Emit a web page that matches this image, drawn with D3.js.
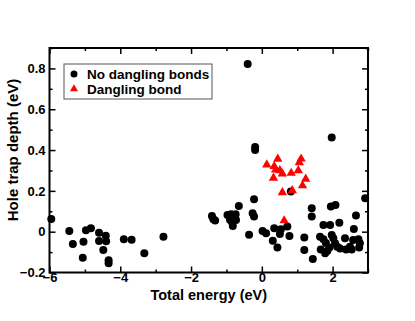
<!DOCTYPE html>
<html><head><meta charset="utf-8">
<script src="https://cdn.jsdelivr.net/npm/d3@7"></script>
<style>
html,body{margin:0;padding:0;background:#fff;}
text{font-family:"Liberation Sans",Arial,sans-serif;font-weight:bold;}
</style></head>
<body><svg id="c" width="415" height="321"></svg>
<script>
const noDanglingX = [-5.95,-5.44,-5.34,-5.06,-5.04,-4.97,-4.83,-4.60,-4.60,-4.41,-4.40,-4.48,-4.33,-4.33,-3.90,-3.68,-3.32,-2.78,
 -1.41,-1.37,-1.32,-0.97,-0.87,-0.74,-0.90,-0.73,-0.82,-0.85,-0.65,-0.40,-0.19,-0.19,-0.22,-0.26,-0.22,-0.36,0.02,0.12,0.35,0.31,0.44,0.54,0.51,0.72,0.78,0.82,
 1.20,1.20,1.44,1.41,1.41,1.975,1.74,1.93,2.19,1.95,2.08,2.66,2.60,2.92,
 1.645,1.665,1.74,1.81,1.79,1.85,1.91,1.975,2.02,2.07,2.13,2.21,2.35,2.38,2.49,2.54,2.58,2.73,2.77,2.75];
const noDanglingY = [0.062,0.003,-0.06,-0.128,-0.049,0.007,0.017,-0.005,-0.046,-0.02,-0.047,-0.09,-0.14,-0.155,-0.037,-0.039,-0.106,-0.025,
 0.077,0.061,0.055,0.082,0.085,0.085,0.058,0.057,0.028,0.049,0.126,0.821,0.415,0.40,0.159,0.09,0.074,-0.015,0.003,-0.008,0.017,-0.044,-0.077,0.012,-0.011,0.025,-0.021,0.197,
 -0.028,-0.09,-0.134,0.115,0.074,0.461,0.033,0.033,0.044,0.123,0.131,0.079,0.013,0.164,
 -0.025,-0.087,-0.037,-0.056,-0.106,-0.095,-0.077,-0.016,-0.032,-0.057,-0.074,-0.082,-0.032,-0.087,-0.074,-0.087,-0.041,-0.037,-0.057,-0.077];
const danglingX = [0.45,0.14,0.35,0.39,0.51,0.58,0.33,0.83,1.03,1.11,1.06,1.24,1.15,0.58,0.86,0.63];
const danglingY = [0.356,0.328,0.320,0.303,0.30,0.284,0.263,0.287,0.30,0.357,0.339,0.258,0.226,0.192,0.202,0.054];
const xTicks = [-6,-4,-2,0,2];
const xMinor = [-5,-3,-1,1,3];
const yTicks = [-0.2,0,0.2,0.4,0.6,0.8];
const yMinor = [-0.1,0.1,0.3,0.5,0.7,0.9];
const seriesNames = ["No dangling bonds","Dangling bond"];
const xLabel = "Total energy (eV)";
const yLabel = "Hole trap depth (eV)";

const svg = d3.select("#c");
const L=49.5, R=368, T=48, B=272.5;
const x = d3.scaleLinear().domain([-6,3]).range([L,R]);
const y = d3.scaleLinear().domain([-0.2,0.9]).range([B,T]);
const fmtY = d => d===0 ? "0" : d3.format(".1f")(d);

function styleAxis(g){
  g.selectAll(".domain").remove();
  g.selectAll("line").attr("stroke","#000").attr("stroke-width",1.5);
  g.selectAll("text").attr("font-size",13).attr("fill","#000");
}
// bottom
svg.append("g").attr("transform",`translate(0,${B})`)
  .call(d3.axisBottom(x).tickValues(xTicks).tickSize(-6).tickPadding(0.5).tickFormat(d3.format("d"))).call(styleAxis);
svg.append("g").attr("transform",`translate(0,${B})`)
  .call(d3.axisBottom(x).tickValues(xMinor).tickSize(-3).tickFormat("")).call(styleAxis);
// top
svg.append("g").attr("transform",`translate(0,${T})`)
  .call(d3.axisTop(x).tickValues(xTicks).tickSize(-6).tickFormat("")).call(styleAxis);
svg.append("g").attr("transform",`translate(0,${T})`)
  .call(d3.axisTop(x).tickValues(xMinor).tickSize(-3).tickFormat("")).call(styleAxis);
// left
svg.append("g").attr("transform",`translate(${L},0)`)
  .call(d3.axisLeft(y).tickValues(yTicks).tickSize(-6).tickPadding(4).tickFormat(fmtY)).call(styleAxis);
svg.append("g").attr("transform",`translate(${L},0)`)
  .call(d3.axisLeft(y).tickValues(yMinor).tickSize(-3).tickFormat("")).call(styleAxis);
// right
svg.append("g").attr("transform",`translate(${R},0)`)
  .call(d3.axisRight(y).tickValues(yTicks).tickSize(-6).tickFormat("")).call(styleAxis);
svg.append("g").attr("transform",`translate(${R},0)`)
  .call(d3.axisRight(y).tickValues(yMinor).tickSize(-3).tickFormat("")).call(styleAxis);

// frame
svg.append("rect").attr("x",L).attr("y",T).attr("width",R-L).attr("height",B-T)
  .attr("fill","none").attr("stroke","#000").attr("stroke-width",2);

// points
const plot = svg.append("g");
plot.selectAll("circle.nd").data(noDanglingX.map((v,i)=>[v,noDanglingY[i]])).enter()
  .append("circle").attr("cx",d=>x(d[0])).attr("cy",d=>y(d[1])).attr("r",4).attr("fill","#000");
const tri = d3.symbol().type(d3.symbolTriangle).size(38);
plot.selectAll("path.db").data(danglingX.map((v,i)=>[v,danglingY[i]])).enter()
  .append("path").attr("d",tri).attr("transform",d=>`translate(${x(d[0])},${y(d[1])})`).attr("fill","#ff0000");

// legend
const lg = svg.append("g");
lg.append("rect").attr("x",64).attr("y",64).attr("width",148).attr("height",35)
  .attr("fill","#fff").attr("stroke","#555").attr("stroke-width",1);
lg.append("circle").attr("cx",74).attr("cy",74).attr("r",3.5).attr("fill","#000");
lg.append("path").attr("d",d3.symbol().type(d3.symbolTriangle).size(28)).attr("transform","translate(74,89)").attr("fill","#ff0000");
lg.append("text").attr("x",87).attr("y",78.5).attr("font-size",13.5).text(seriesNames[0]);
lg.append("text").attr("x",87).attr("y",93.5).attr("font-size",13.5).text(seriesNames[1]);

// axis labels
svg.append("text").attr("x",(L+R)/2).attr("y",300).attr("text-anchor","middle").attr("font-size",14.5).text(xLabel);
svg.append("text").attr("transform",`translate(18,150) rotate(-90)`).attr("text-anchor","middle").attr("font-size",15).text(yLabel);
</script></body></html>
